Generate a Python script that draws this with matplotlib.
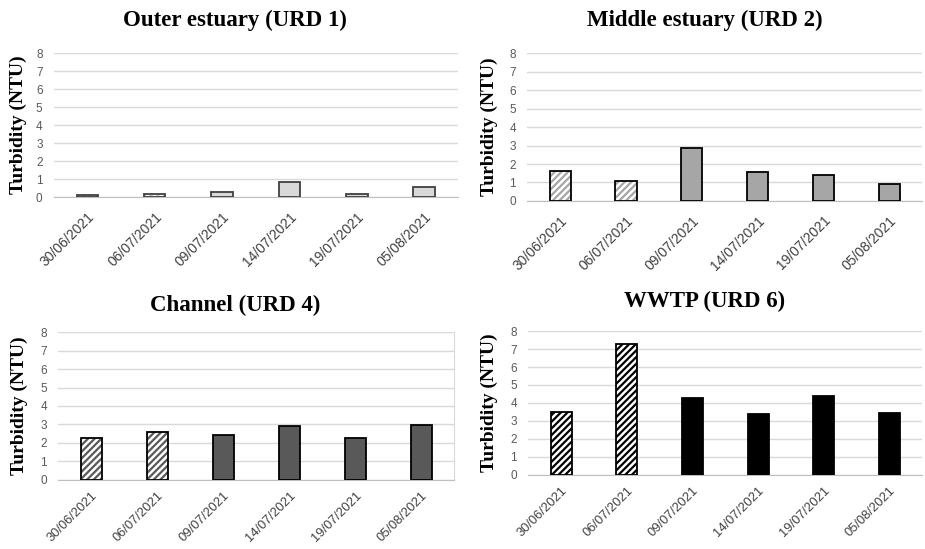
"""Turbidity at four sampling sites, summer 2021."""
import matplotlib
matplotlib.use('Agg')
import matplotlib.pyplot as plt
import numpy as np

plt.rcParams['hatch.linewidth'] = 1.6

dates = ['30/06/2021', '06/07/2021', '09/07/2021', '14/07/2021', '19/07/2021', '05/08/2021']

titles = ['Outer estuary (URD 1)', 'Middle estuary (URD 2)', 'Channel (URD 4)', 'WWTP (URD 6)']
outer = [0.13, 0.17, 0.26, 0.83, 0.17, 0.56]
middle = [1.62, 1.10, 2.85, 1.55, 1.42, 0.90]
channel = [2.29, 2.60, 2.45, 2.90, 2.26, 2.98]
wwtp = [3.50, 7.26, 4.26, 3.37, 4.41, 3.46]
n_hatched = 2  # first two sampling dates are drawn hatched

fills = ['#d9d9d9', '#a6a6a6', '#595959', '#000000']
hatch_cols = ['#bfbfbf', '#a6a6a6', '#595959', '#000000']
edges = ['#404040', '#000000', '#000000', '#000000']

# axes boxes in figure fractions [left, bottom, width, height]
boxes = [[0.058, 0.641, 0.437, 0.262],
         [0.570, 0.634, 0.427, 0.269],
         [0.063, 0.126, 0.428, 0.269],
         [0.571, 0.135, 0.426, 0.262]]
title_pos = [(0.254, 0.962), (0.762, 0.962), (0.254, 0.444), (0.762, 0.451)]
ylab_x = [-0.067, -0.073, -0.076, -0.076]

fig = plt.figure(figsize=(9.25, 5.49), dpi=100)
x = np.arange(len(dates))
width = 0.32

for i, vals in enumerate([outer, middle, channel, wwtp]):
    ax = fig.add_axes(boxes[i])
    for j, v in enumerate(vals):
        if j < n_hatched:
            ax.bar(x[j], v, width, color='white', edgecolor=hatch_cols[i],
                   hatch='/////', linewidth=0, zorder=3)
            ax.bar(x[j], v, width, fill=False, edgecolor=edges[i], linewidth=1.3, zorder=4)
        else:
            ax.bar(x[j], v, width, color=fills[i], edgecolor=edges[i], linewidth=1.3, zorder=3)
    ax.set_xlim(-0.5, len(dates) - 0.5)
    ax.set_ylim(0, 8)
    ax.set_yticks(range(0, 9))
    ax.set_xticks(x)
    bottom_row = i >= 2
    ax.set_xticklabels(dates, rotation=45, ha='right', rotation_mode='anchor',
                       fontsize=9.3 if bottom_row else 10, color='#404040',
                       family='Liberation Sans')
    for lbl in ax.get_yticklabels():
        lbl.set_fontsize(8.5)
        lbl.set_color('#595959')
        lbl.set_family('Liberation Sans')
    ax.tick_params(axis='x', length=0, pad=7 if bottom_row else 9)
    ax.tick_params(axis='y', length=0, pad=8)
    ax.grid(axis='y', color='#d9d9d9', linewidth=1.0, zorder=0)
    for side in ['top', 'left', 'right']:
        ax.spines[side].set_visible(False)
    ax.spines['bottom'].set_color('#bfbfbf')
    if i == 2:
        ax.spines['right'].set_visible(True)
        ax.spines['right'].set_color('#d9d9d9')
    ax.set_ylabel('Turbidity (NTU)', fontsize=14, fontweight='bold',
                  family='Liberation Serif')
    ax.yaxis.set_label_coords(ylab_x[i], 0.5)
    fig.text(title_pos[i][0], title_pos[i][1], titles[i], ha='center', va='center',
             fontsize=16.5, fontweight='bold', family='Liberation Serif')

plt.savefig('out.png', dpi=100)
